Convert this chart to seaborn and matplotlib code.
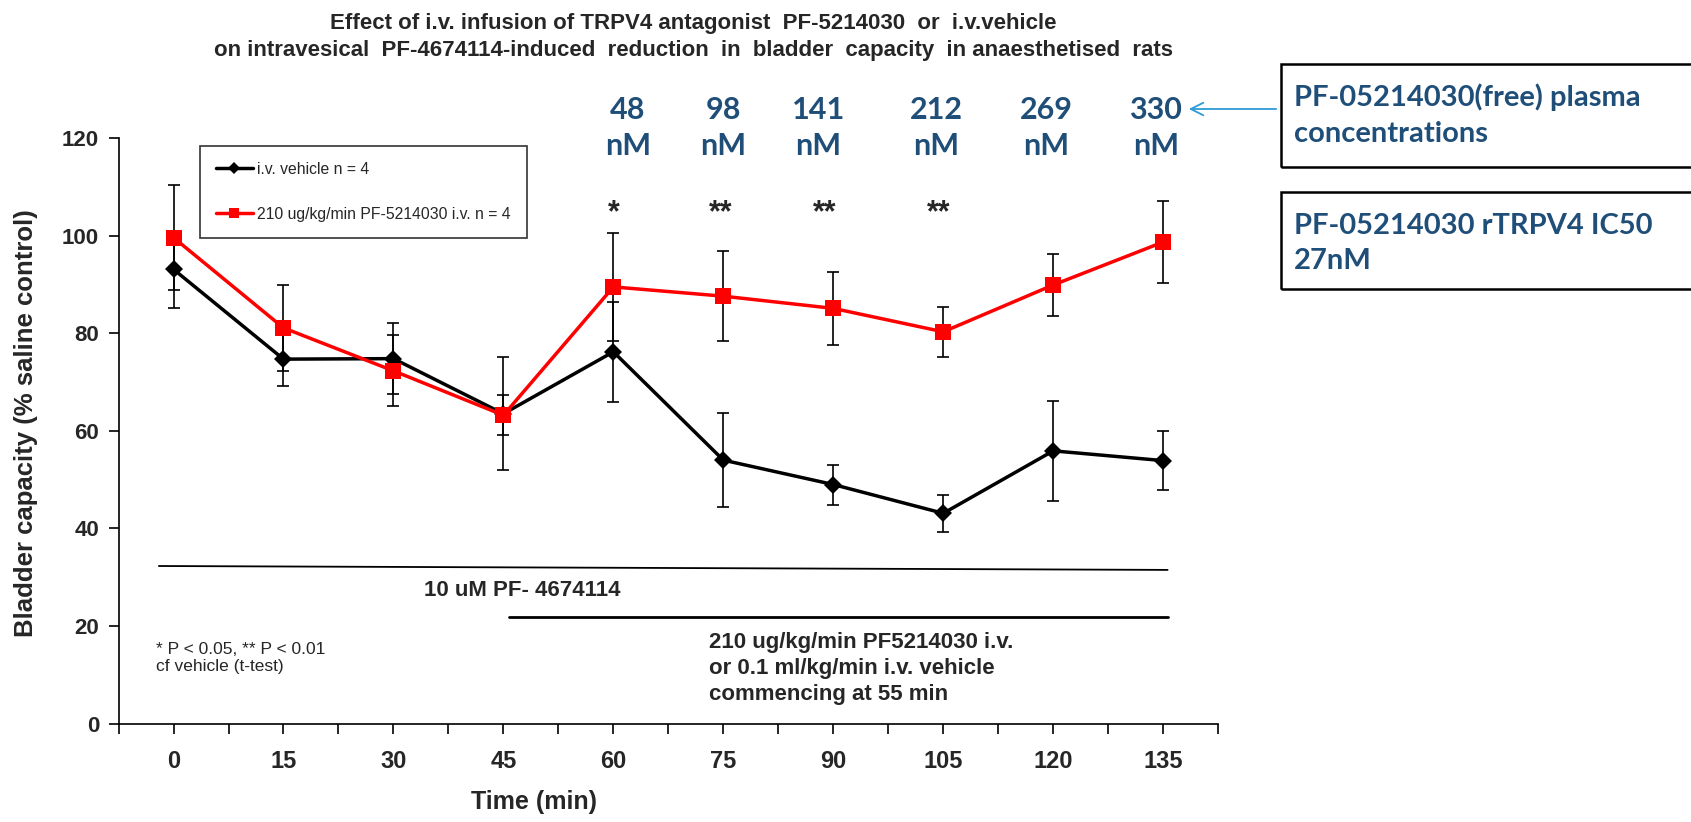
import numpy as np
import pandas as pd
import matplotlib
matplotlib.use('Agg')
import matplotlib.pyplot as plt
from matplotlib.patches import Rectangle
from matplotlib.ticker import MultipleLocator
import seaborn as sns

# data
time_min = [0, 15, 30, 45, 60, 75, 90, 105, 120, 135]
vehicle_mean = [93.1, 74.7, 74.8, 63.5, 76.2, 54.0, 49.0, 43.1, 55.9, 53.9]
vehicle_sem = [7.9, 5.5, 7.3, 11.6, 10.2, 9.6, 4.1, 3.8, 10.2, 6.0]
drug_mean = [99.6, 81.1, 72.3, 63.2, 89.5, 87.6, 85.1, 80.3, 89.9, 98.7]
drug_sem = [10.8, 8.8, 7.3, 4.1, 11.0, 9.2, 7.5, 5.1, 6.3, 8.5]
series_labels = ['i.v. vehicle n = 4', '210 ug/kg/min PF-5214030 i.v. n = 4']

star_x = [60, 74.6, 88.8, 104.4]
star_text = ['*', '**', '**', '**']
conc_x = [62, 75, 88, 104, 119, 134]
conc_nM = ['48', '98', '141', '212', '269', '330']

# treatment bars
pf467_span = [-2, 135.6]
pf467_level = [32.3, 31.5]
infusion_span = [45.7, 135.6]
infusion_level = [21.9, 21.9]

sns.set_style('white')
plt.rcParams['font.family'] = ['Liberation Sans', 'DejaVu Sans']
narrow = ['Liberation Sans Narrow', 'Liberation Sans', 'DejaVu Sans']
blue = '#1F4E79'

df = pd.DataFrame({
    'Time': time_min * 2,
    'Capacity': vehicle_mean + drug_mean,
    'Group': [series_labels[0]] * len(time_min) + [series_labels[1]] * len(time_min),
})

fig, ax = plt.subplots(figsize=(16.91, 8.22), dpi=100)
fig.subplots_adjust(left=0.0701, right=0.7204, bottom=0.1197, top=0.832)

for m, s in [(vehicle_mean, vehicle_sem), (drug_mean, drug_sem)]:
    ax.errorbar(time_min, m, yerr=s, fmt='none', ecolor='black',
                elinewidth=1.2, capsize=4, capthick=1.2, zorder=2)

sns.lineplot(data=df[df['Group'] == series_labels[0]], x='Time', y='Capacity',
             color='black', marker='D', markersize=9, markeredgewidth=0,
             linewidth=2.5, label=series_labels[0], ax=ax, zorder=3)
sns.lineplot(data=df[df['Group'] == series_labels[1]], x='Time', y='Capacity',
             color='red', marker='s', markersize=11, markeredgewidth=0,
             linewidth=2.5, label=series_labels[1], ax=ax, zorder=4)

ax.set_xlim(-7.5, 142.5)
ax.set_ylim(0, 120)
ax.xaxis.set_major_locator(MultipleLocator(15))
ax.xaxis.set_minor_locator(MultipleLocator(7.5))
ax.yaxis.set_major_locator(MultipleLocator(20))
sns.despine(ax=ax)
for sp in ['left', 'bottom']:
    ax.spines[sp].set_color('black')
    ax.spines[sp].set_linewidth(1.2)
ax.tick_params(axis='x', which='both', direction='out', length=7, width=1.2,
               color='black', bottom=True, pad=12)
ax.tick_params(axis='y', direction='out', length=7, width=1.2, color='black',
               left=True, pad=7)
for t in ax.get_xticklabels():
    t.set_fontsize(17)
    t.set_fontweight('bold')
    t.set_family(narrow)
for t in ax.get_yticklabels():
    t.set_fontsize(16)
    t.set_fontweight('bold')

ax.set_xlabel('Time (min)', fontsize=18, fontweight='bold', family=narrow)
ax.xaxis.set_label_coords(0.378, -0.113)
ax.set_ylabel('Bladder capacity (% saline control)', fontsize=18.5, fontweight='bold')
ax.yaxis.set_label_coords(-0.073, 0.513)

leg = ax.legend(loc='upper left', bbox_to_anchor=(0.074, 0.986), borderaxespad=0,
                fancybox=False, frameon=True, edgecolor='black', fontsize=11.3,
                handlelength=2.4, handletextpad=0.25, labelspacing=1.9, borderpad=1.0)
leg.get_frame().set_linewidth(1.2)
for h, ms in zip(leg.legend_handles, [6, 7.5]):
    h.set_linewidth(2.5)
    h.set_markersize(ms)

# treatment lines and labels
ax.plot(pf467_span, pf467_level, color='black', lw=1.3)
ax.plot(infusion_span, infusion_level, color='black', lw=2)
ax.text(47.6, 27.2, '10 uM PF- 4674114', ha='center', va='center', fontsize=16,
        fontweight='bold', family=narrow)
ax.text(73.1, 11.3, '210 ug/kg/min PF5214030 i.v.\nor 0.1 ml/kg/min i.v. vehicle\ncommencing at 55 min',
        ha='left', va='center', fontsize=16, fontweight='bold', family=narrow, linespacing=1.3)
ax.text(-2.4, 13.5, '* P < 0.05, ** P < 0.01\ncf vehicle (t-test)', ha='left', va='center',
        fontsize=12.5, family=narrow)

for x, s in zip(star_x, star_text):
    ax.text(x, 104.5, s, ha='center', va='center', fontsize=22, fontweight='bold')

for x, s in zip(conc_x, conc_nM):
    ax.text(x, 122, s + '\nnM', ha='center', va='center', fontsize=22, fontweight='bold',
            color=blue, family=['Lato', 'DejaVu Sans'], linespacing=1.35, clip_on=False)

fig.text(0.41, 0.9553,
         'Effect of i.v. infusion of TRPV4 antagonist  PF-5214030  or  i.v.vehicle\n'
         'on intravesical  PF-4674114-induced  reduction  in  bladder  capacity  in anaesthetised  rats',
         ha='center', va='center', fontsize=16, fontweight='bold', family=narrow, linespacing=1.4)

# boxes on the right
for y0, y1 in [(0.7968, 0.9226), (0.6484, 0.7664)]:
    fig.add_artist(Rectangle((0.7575, y0), 0.26, y1 - y0, transform=fig.transFigure,
                             fill=False, edgecolor='black', linewidth=1.8))
fig.text(0.765, 0.8600, 'PF-05214030(free) plasma\nconcentrations', ha='left', va='center',
         fontsize=21, fontweight='bold', color=blue, family=['Lato', 'DejaVu Sans'], linespacing=1.45)
fig.text(0.765, 0.7040, 'PF-05214030 rTRPV4 IC50\n27nM', ha='left', va='center',
         fontsize=21, fontweight='bold', color=blue, family=['Lato', 'DejaVu Sans'], linespacing=1.45)
ax.annotate('', xy=(1186 / 1691, 1 - 109 / 822), xytext=(1279 / 1691, 1 - 109 / 822),
            xycoords='figure fraction', textcoords='figure fraction',
            arrowprops=dict(arrowstyle='->,head_length=0.9,head_width=0.45',
                            color='#2E9BD6', lw=1.3))

plt.savefig('out.png', dpi=100)
